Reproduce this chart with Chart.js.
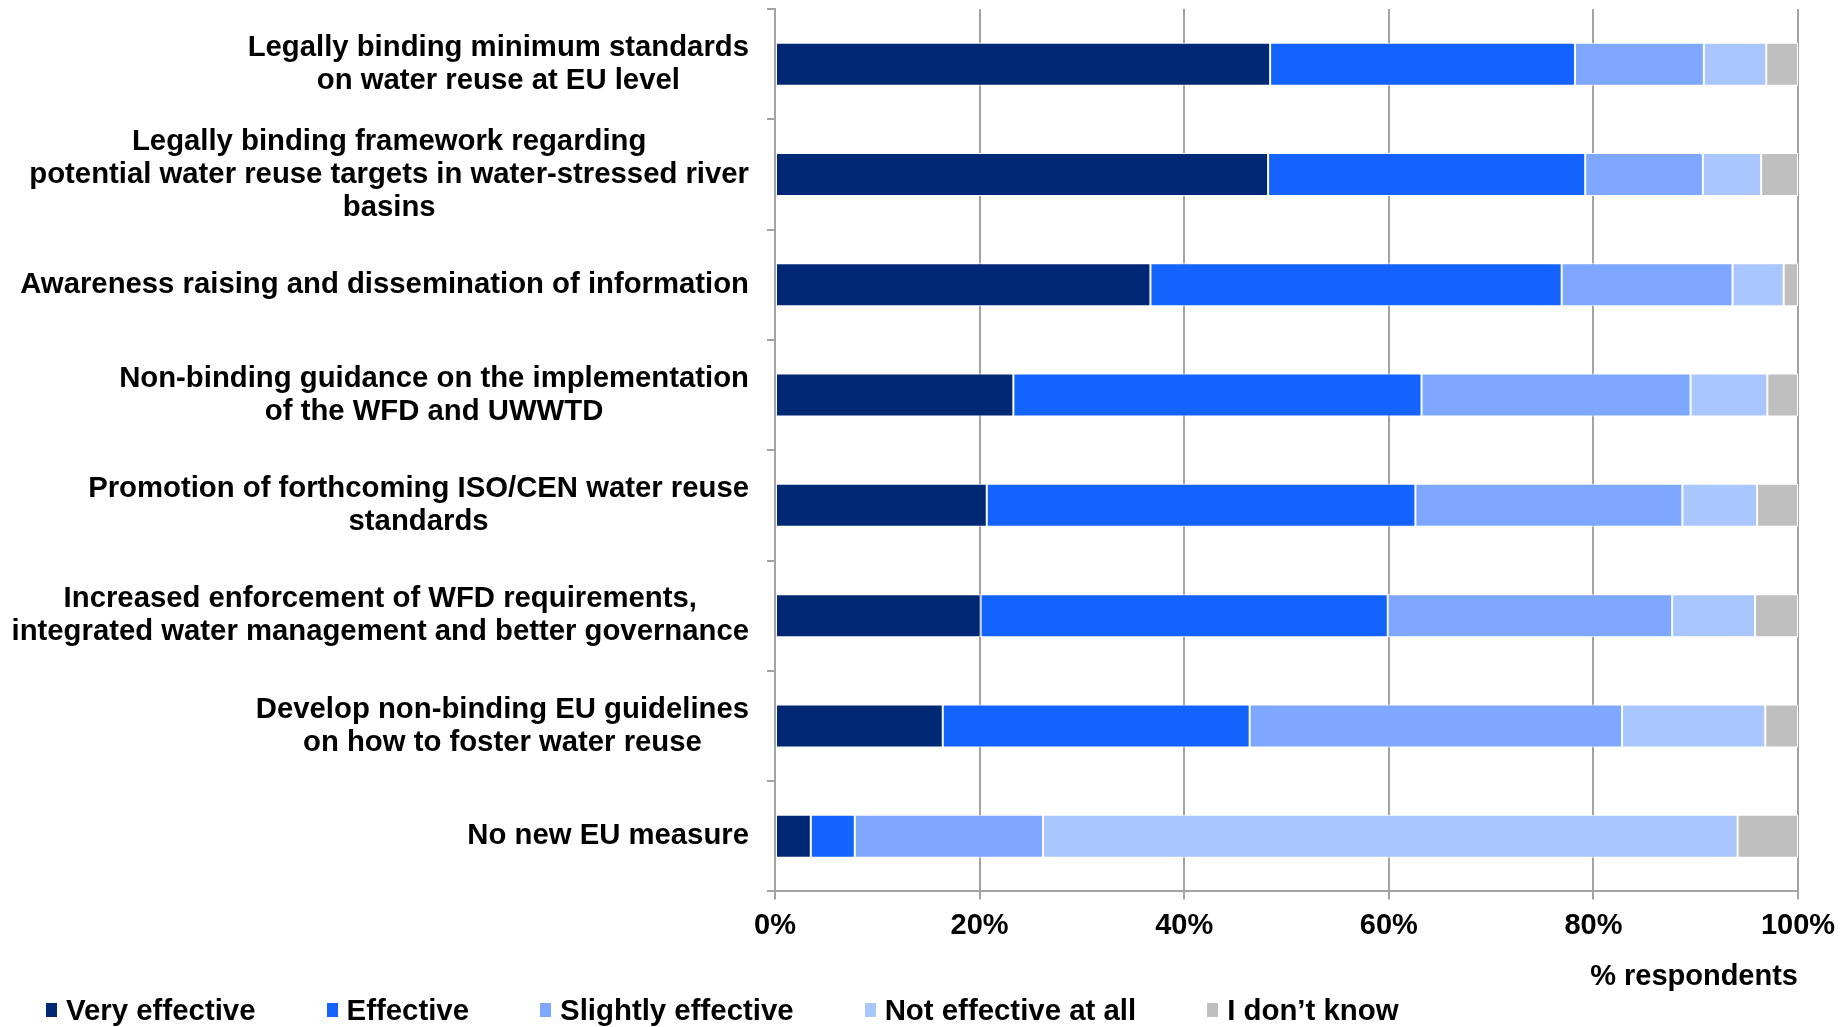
<!DOCTYPE html>
<html>
<head>
<meta charset="utf-8">
<title>Effectiveness of possible EU measures on water reuse</title>
<script src="https://cdn.jsdelivr.net/npm/chart.js@4/dist/chart.umd.min.js"></script>
<style>
    html, body {
        margin: 0;
        padding: 0;
        background: #ffffff;
    }

    .wrap {
        position: relative;
        width: 1844px;
        height: 1027px;
    }

    #measuresChart {
        display: block;
    }

    .legend {
        position: absolute;
        left: 46px;
        top: 994px;
        display: flex;
        align-items: center;
        font-family: 'Liberation Sans', Arial, sans-serif;
        font-weight: bold;
        font-size: 29.4px;
        line-height: 32px;
        color: #000;
        white-space: nowrap;
    }

    .legend-item {
        display: flex;
        align-items: center;
        margin-right: 71px;
    }

    .legend-box {
        width: 11px;
        height: 14px;
        margin-right: 9px;
    }
</style>
</head>
<body>

<div class="wrap">
    <canvas id="measuresChart" width="1844" height="1027"></canvas>
    <div class="legend" id="measuresLegend"></div>
</div>

<script>
// ===============================
// DATA
// ===============================

const categories = [
    ['Legally binding minimum standards', 'on water reuse at EU level'],
    ['Legally binding framework regarding', 'potential water reuse targets in water-stressed river', 'basins'],
    ['Awareness raising and dissemination of information'],
    ['Non-binding guidance on the implementation', 'of the WFD and UWWTD'],
    ['Promotion of forthcoming ISO/CEN water reuse', 'standards'],
    ['Increased enforcement of WFD requirements,', 'integrated water management and better governance'],
    ['Develop non-binding EU guidelines', 'on how to foster water reuse'],
    ['No new EU measure']
];

const seriesNames = [
    'Very effective',
    'Effective',
    'Slightly effective',
    'Not effective at all',
    'I don\u2019t know'
];

const seriesColors = [
    '#002874',
    '#1563ff',
    '#7ea8ff',
    '#a9c6ff',
    '#bfbfbf'
];

// % respondents per answer
const veryEffective     = [48.4, 48.2, 36.7, 23.3, 20.7, 20.1, 16.4,  3.5];
const effective         = [29.8, 31.0, 40.2, 39.9, 41.9, 39.8, 30.0,  4.3];
const slightlyEffective = [12.6, 11.5, 16.7, 26.3, 26.1, 27.8, 36.4, 18.4];
const notEffective      = [ 6.1,  5.7,  5.0,  7.5,  7.3,  8.1, 14.0, 67.9];
const dontKnow          = [ 3.1,  3.6,  1.4,  3.0,  4.0,  4.2,  3.2,  5.9];

const seriesValues = [
    veryEffective,
    effective,
    slightlyEffective,
    notEffective,
    dontKnow
];

const axisTitle = '% respondents';

// ===============================
// CATEGORY LABELS
// ===============================

// each label block is right aligned to the axis,
// its lines centred on each other
const blockLabels = {
    id: 'blockLabels',
    afterDraw(chart) {
        const ctx = chart.ctx;
        const yScale = chart.scales.y;
        const right = chart.chartArea.left - 26;
        const lineGap = 33;

        ctx.save();
        ctx.font = "bold 29.3px 'Liberation Sans', Arial, sans-serif";
        ctx.fillStyle = '#000';
        ctx.textAlign = 'center';
        ctx.textBaseline = 'middle';

        categories.forEach((lines, i) => {
            const widest = Math.max(...lines.map(l => ctx.measureText(l).width));
            const cx = right - widest / 2;
            const cy = yScale.getPixelForValue(i);

            lines.forEach((line, j) => {
                ctx.fillText(line, cx, cy + (j - (lines.length - 1) / 2) * lineGap);
            });
        });

        ctx.restore();
    }
};

// ===============================
// CHART
// ===============================

Chart.defaults.font.family = "'Liberation Sans', Arial, sans-serif";
Chart.defaults.font.weight = 'bold';
Chart.defaults.font.size = 29;
Chart.defaults.color = '#000';

const measuresCtx = document.getElementById('measuresChart');

new Chart(measuresCtx, {
    type: 'bar',
    data: {
        labels: categories.map(c => c.join(' ')),
        datasets: seriesNames.map((name, i) => ({
            label: name,
            data: seriesValues[i],
            backgroundColor: seriesColors[i],
            borderColor: '#ffffff',
            borderWidth: 1,
            borderSkipped: false,
            barPercentage: 0.39,
            categoryPercentage: 1
        }))
    },
    options: {
        indexAxis: 'y',
        responsive: false,
        animation: false,
        events: [],

        layout: {
            padding: {
                top: 9,
                left: 0,
                right: 46,
                bottom: 33
            }
        },

        plugins: {
            legend: {
                display: false
            },
            tooltip: {
                enabled: false
            }
        },

        scales: {
            x: {
                stacked: true,
                min: 0,
                max: 100,
                ticks: {
                    stepSize: 20,
                    padding: 9,
                    font: {
                        size: 29,
                        lineHeight: 1.2
                    },
                    callback: value => value + '%'
                },
                grid: {
                    color: '#a3a3a3',
                    lineWidth: 2,
                    tickLength: 8
                },
                border: {
                    color: '#a3a3a3',
                    width: 2
                },
                title: {
                    display: true,
                    text: axisTitle,
                    align: 'end',
                    padding: {
                        top: 7,
                        bottom: 0
                    },
                    font: {
                        size: 29,
                        lineHeight: 1.2
                    }
                },
                afterFit: scale => {
                    scale.paddingLeft = 0;
                    scale.paddingRight = 0;
                }
            },
            y: {
                stacked: true,
                ticks: {
                    display: false
                },
                grid: {
                    drawOnChartArea: false,
                    color: '#a3a3a3',
                    lineWidth: 2,
                    tickLength: 8
                },
                border: {
                    color: '#a3a3a3',
                    width: 2
                },
                afterFit: scale => {
                    scale.width = 775;
                    scale.paddingTop = 0;
                    scale.paddingBottom = 0;
                }
            }
        }
    },
    plugins: [blockLabels]
});

// ===============================
// LEGEND
// ===============================

const legendEl = document.getElementById('measuresLegend');

seriesNames.forEach((name, i) => {
    legendEl.innerHTML += `
        <div class="legend-item">
            <span class="legend-box" style="background:${seriesColors[i]}"></span>
            <span>${name}</span>
        </div>
    `;
});
</script>

</body>
</html>
